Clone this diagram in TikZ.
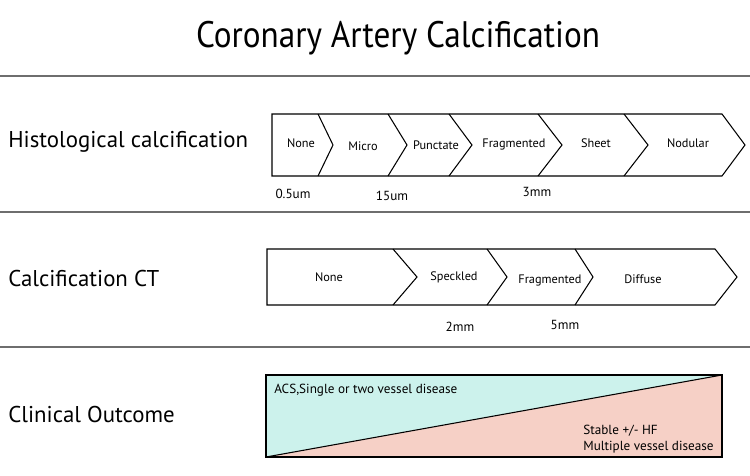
\documentclass[tikz,border=0pt]{standalone}
\usepackage{fontspec}
\setmainfont{PT Sans}
\usepackage{xcolor}
\usetikzlibrary{positioning}
\definecolor{acsfill}{RGB}{204,242,236}
\definecolor{stablefill}{RGB}{246,208,198}
\definecolor{rulegray}{RGB}{110,110,110}

\begin{document}
\begin{tikzpicture}[x=0.02cm, y=-0.02cm,
    rowlabel/.style={anchor=west, inner sep=0pt, font=\fontsize{13}{15}\selectfont},
    stage/.style={inner sep=0pt, font=\fontsize{7}{8}\selectfont},
    size/.style={inner sep=0pt, font=\fontsize{7.5}{9}\selectfont},
    outcome/.style={anchor=west, inner sep=0pt, align=left, font=\fontsize{7.5}{9}\selectfont},
    sep/.style={draw=rulegray, line width=0.8pt}]
  \useasboundingbox (0,0) rectangle (750,476);
  \node[inner sep=0pt, xscale=0.9, font=\fontsize{21}{24}\selectfont] (title) at (398,38) {Coronary Artery Calcification};
  % separators
  \draw[sep] (0,76) -- (750,76);
  \draw[sep] (0,212) -- (750,212);
  \draw[sep] (0,347) -- (750,347);
  % row labels
  \node[rowlabel] (histo) at (8,142) {Histological calcification};
  \node[rowlabel] (ct) at (8,279) {Calcification CT};
  \node[rowlabel] (clin) at (8,415) {Clinical Outcome};
  % histological chevrons
  \draw[line width=0.6pt] (272,114) -- (722,114) -- (745,145) -- (722,176) -- (272,176) -- cycle;
  \foreach \x/\t in {318/333, 388/407, 449/472, 538/562, 624/648}
    \draw[line width=0.6pt] (\x,114) -- (\t,145) -- (\x,176);
  \node[stage] (h1) at (301,143) {None};
  \node[stage] (h2) at (363,146) {Micro};
  \node[stage] (h3) at (436,145) {Punctate};
  \node[stage] (h4) at (514,144) {Fragmented};
  \node[stage] (h5) at (596,143) {Sheet};
  \node[stage] (h6) at (688,143) {Nodular};
  \node[size] (s1) at (293,194) {0.5um};
  \node[size] (s2) at (392,196) {15um};
  \node[size] (s3) at (537,192) {3mm};
  % CT chevrons
  \draw[line width=0.6pt] (267,249) -- (715,249) -- (737,277) -- (715,305) -- (267,305) -- cycle;
  \foreach \x/\t in {393/417, 487/507, 575/593}
    \draw[line width=0.6pt] (\x,249) -- (\t,277) -- (\x,305);
  \node[stage] (c1) at (329,277) {None};
  \node[stage] (c2) at (454,277) {Speckled};
  \node[stage] (c3) at (550,280) {Fragmented};
  \node[stage] (c4) at (643,279) {Diffuse};
  \node[size] (m1) at (460,327) {2mm};
  \node[size] (m2) at (565,325) {5mm};
  % clinical outcome
  \fill[acsfill] (266,375) -- (722,375) -- (266,457) -- cycle;
  \fill[stablefill] (722,375) -- (722,457) -- (266,457) -- cycle;
  \draw[line width=0.6pt] (266,375) rectangle (722,457);
  \draw[line width=0.6pt] (266,457) -- (722,375);
  \node[outcome] (acs) at (274,390) {ACS,Single or two vessel disease};
  \node[outcome] (stable) at (583,439) {Stable +/- HF\\Multiple vessel disease};
\end{tikzpicture}
\end{document}
